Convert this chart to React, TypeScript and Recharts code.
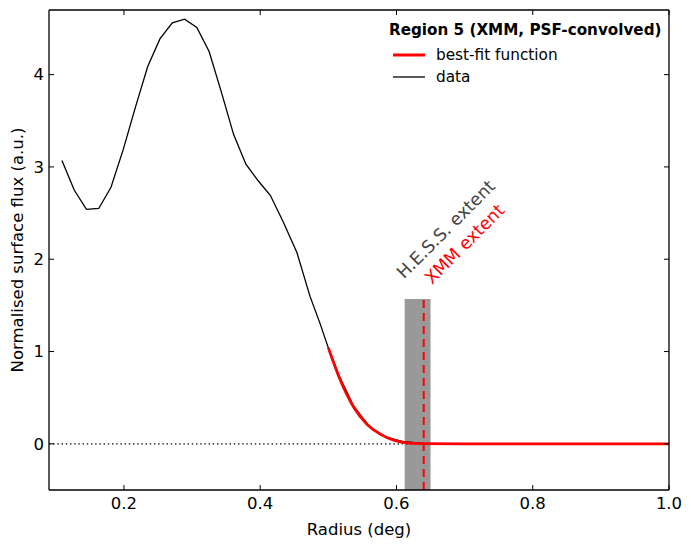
import React from 'react';
import {
  LineChart,
  Line,
  XAxis,
  YAxis,
  ReferenceLine,
  ReferenceArea,
  ReferenceDot,
  Legend,
} from 'recharts';

// radius (deg) and flux
const dataRadius = [
  0.109, 0.127, 0.145, 0.163, 0.181, 0.199, 0.217, 0.235, 0.253, 0.271, 0.289,
  0.307, 0.325, 0.343, 0.361, 0.379, 0.397, 0.415, 0.434, 0.454, 0.473, 0.488,
  0.5, 0.517, 0.537, 0.561, 0.586, 0.61, 0.64, 0.7, 0.8, 0.9, 1.0,
];
const dataFlux = [
  3.07, 2.75, 2.54, 2.55, 2.78, 3.19, 3.65, 4.09, 4.39, 4.56, 4.6, 4.51, 4.25,
  3.81, 3.35, 3.03, 2.85, 2.69, 2.4, 2.07, 1.6, 1.3, 1.04, 0.72, 0.41, 0.18,
  0.07, 0.025, 0.006, 0, 0, 0, 0,
];

const fitRadius = [0.5, 0.517, 0.537, 0.557, 0.576, 0.596, 0.615, 0.64, 0.7, 0.8, 0.9, 1.0];
const fitFlux = [1.04, 0.7, 0.4, 0.21, 0.105, 0.04, 0.01, 0.002, 0, 0, 0, 0];

const xTicks = [0.2, 0.4, 0.6, 0.8, 1.0];
const yTicks = [0, 1, 2, 3, 4];

const hessBand = [0.612, 0.65];
const hessTop = 1.57;
const xmmExtent = 0.64;
const hessLabelAt = { r: 0.611, v: 1.78 };
const xmmLabelAt = { r: 0.652, v: 1.72 };

const dataSeries = dataRadius.map((r, i) => ({ r, v: dataFlux[i] }));
const fitSeries = fitRadius.map((r, i) => ({ r, v: fitFlux[i] }));

const FONT = '"DejaVu Sans", sans-serif';
const tickStyle = { fill: '#000', fontSize: 16.5, fontFamily: FONT };

const rotatedLabel = (text: string, color: string) => (props: any) => {
  const vb = props.viewBox || {};
  const x = vb.x ?? 0;
  const y = vb.y ?? 0;
  return (
    <text
      x={x}
      y={y}
      fill={color}
      fontSize={17.5}
      fontFamily={FONT}
      transform={`rotate(-45 ${x} ${y})`}
    >
      {text}
    </text>
  );
};

const legendOrder = ['best-fit function', 'data'];

const renderLegend = (props: any) => {
  const items = [...(props.payload || [])].sort(
    (a: any, b: any) => legendOrder.indexOf(a.value) - legendOrder.indexOf(b.value),
  );
  return (
    <div style={{ fontFamily: FONT, color: '#000' }}>
      <div style={{ fontWeight: 'bold', fontSize: 15.2, lineHeight: '20px', whiteSpace: 'nowrap' }}>
        Region 5 (XMM, PSF-convolved)
      </div>
      <div style={{ height: 4 }} />
      {items.map((entry: any) => (
        <div
          key={entry.value}
          style={{ display: 'flex', alignItems: 'center', height: 22, fontSize: 15.3 }}
        >
          <svg width={36} height={22} style={{ display: 'block' }}>
            <line
              x1={4}
              x2={36}
              y1={11}
              y2={11}
              stroke={entry.color}
              strokeWidth={entry.value === 'data' ? 1.3 : 3}
            />
          </svg>
          <span style={{ marginLeft: 11, whiteSpace: 'nowrap' }}>{entry.value}</span>
        </div>
      ))}
    </div>
  );
};

export default function App() {
  return (
    <div style={{ width: 691, height: 548, fontFamily: FONT, background: '#fff' }}>
      <style>{'body{margin:0}'}</style>
      <LineChart
        width={691}
        height={548}
        margin={{ top: 0, right: 0, bottom: 0, left: 0 }}
      >
        <XAxis
          dataKey="r"
          type="number"
          domain={[0.09, 1.0]}
          ticks={xTicks}
          allowDataOverflow
          height={58}
          tickSize={-5}
          tickMargin={12}
          tick={tickStyle}
          tickFormatter={(v: number) => v.toFixed(1)}
          axisLine={{ stroke: '#000', strokeWidth: 1.3 }}
          tickLine={{ stroke: '#000' }}
          label={{
            value: 'Radius (deg)',
            position: 'insideBottom',
            offset: 13,
            fill: '#000',
            fontSize: 16.5,
            fontFamily: FONT,
          }}
        />
        <XAxis
          xAxisId="top"
          orientation="top"
          dataKey="r"
          type="number"
          domain={[0.09, 1.0]}
          ticks={xTicks}
          allowDataOverflow
          height={10}
          tickSize={-5}
          tickFormatter={() => ''}
          axisLine={{ stroke: '#000', strokeWidth: 1.3 }}
          tickLine={{ stroke: '#000' }}
        />
        <YAxis
          type="number"
          domain={[-0.5, 4.7]}
          ticks={yTicks}
          allowDataOverflow
          width={49}
          tickSize={-5}
          tickMargin={10}
          tick={tickStyle}
          axisLine={{ stroke: '#000', strokeWidth: 1.3 }}
          tickLine={{ stroke: '#000' }}
          label={{
            content: (p: any) => {
              const vb = p.viewBox || { x: 0, y: 10, height: 480 };
              const cx = vb.x + 23;
              const cy = vb.y + vb.height / 2;
              return (
                <text
                  x={cx}
                  y={cy}
                  textAnchor="middle"
                  fill="#000"
                  fontSize={16.5}
                  fontFamily={FONT}
                  transform={`rotate(-90 ${cx} ${cy})`}
                >
                  Normalised surface flux (a.u.)
                </text>
              );
            },
          }}
        />
        <YAxis
          yAxisId="right"
          orientation="right"
          type="number"
          domain={[-0.5, 4.7]}
          ticks={yTicks}
          allowDataOverflow
          width={22}
          tickSize={-5}
          tickFormatter={() => ''}
          axisLine={{ stroke: '#000', strokeWidth: 1.3 }}
          tickLine={{ stroke: '#000' }}
        />
        <ReferenceArea
          x1={hessBand[0]}
          x2={hessBand[1]}
          y1={-0.5}
          y2={hessTop}
          fill="#999999"
          fillOpacity={1}
          stroke="none"
        />
        <ReferenceLine y={0} stroke="#000" strokeWidth={1.2} strokeDasharray="1.4 2.8" />
        <Line
          data={dataSeries}
          dataKey="v"
          name="data"
          type="linear"
          stroke="#000"
          strokeWidth={1.3}
          dot={false}
          activeDot={false}
          isAnimationActive={false}
        />
        <Line
          data={fitSeries}
          dataKey="v"
          name="best-fit function"
          type="monotone"
          stroke="#ff0000"
          strokeWidth={2.8}
          dot={false}
          activeDot={false}
          isAnimationActive={false}
        />
        <ReferenceLine
          segment={[
            { x: xmmExtent, y: -0.5 },
            { x: xmmExtent, y: hessTop },
          ]}
          stroke="#ff0000"
          strokeWidth={2}
          strokeDasharray="8 5"
        />
        <ReferenceDot
          x={hessLabelAt.r}
          y={hessLabelAt.v}
          r={0}
          fill="none"
          stroke="none"
          label={rotatedLabel('H.E.S.S. extent', '#444444')}
        />
        <ReferenceDot
          x={xmmLabelAt.r}
          y={xmmLabelAt.v}
          r={0}
          fill="none"
          stroke="none"
          label={rotatedLabel('XMM extent', '#ff0000')}
        />
        <Legend
          layout="vertical"
          align="center"
          verticalAlign="middle"
          wrapperStyle={{ position: 'absolute', top: 20, left: 389, width: 'auto', height: 'auto' }}
          content={renderLegend}
        />
      </LineChart>
    </div>
  );
}
